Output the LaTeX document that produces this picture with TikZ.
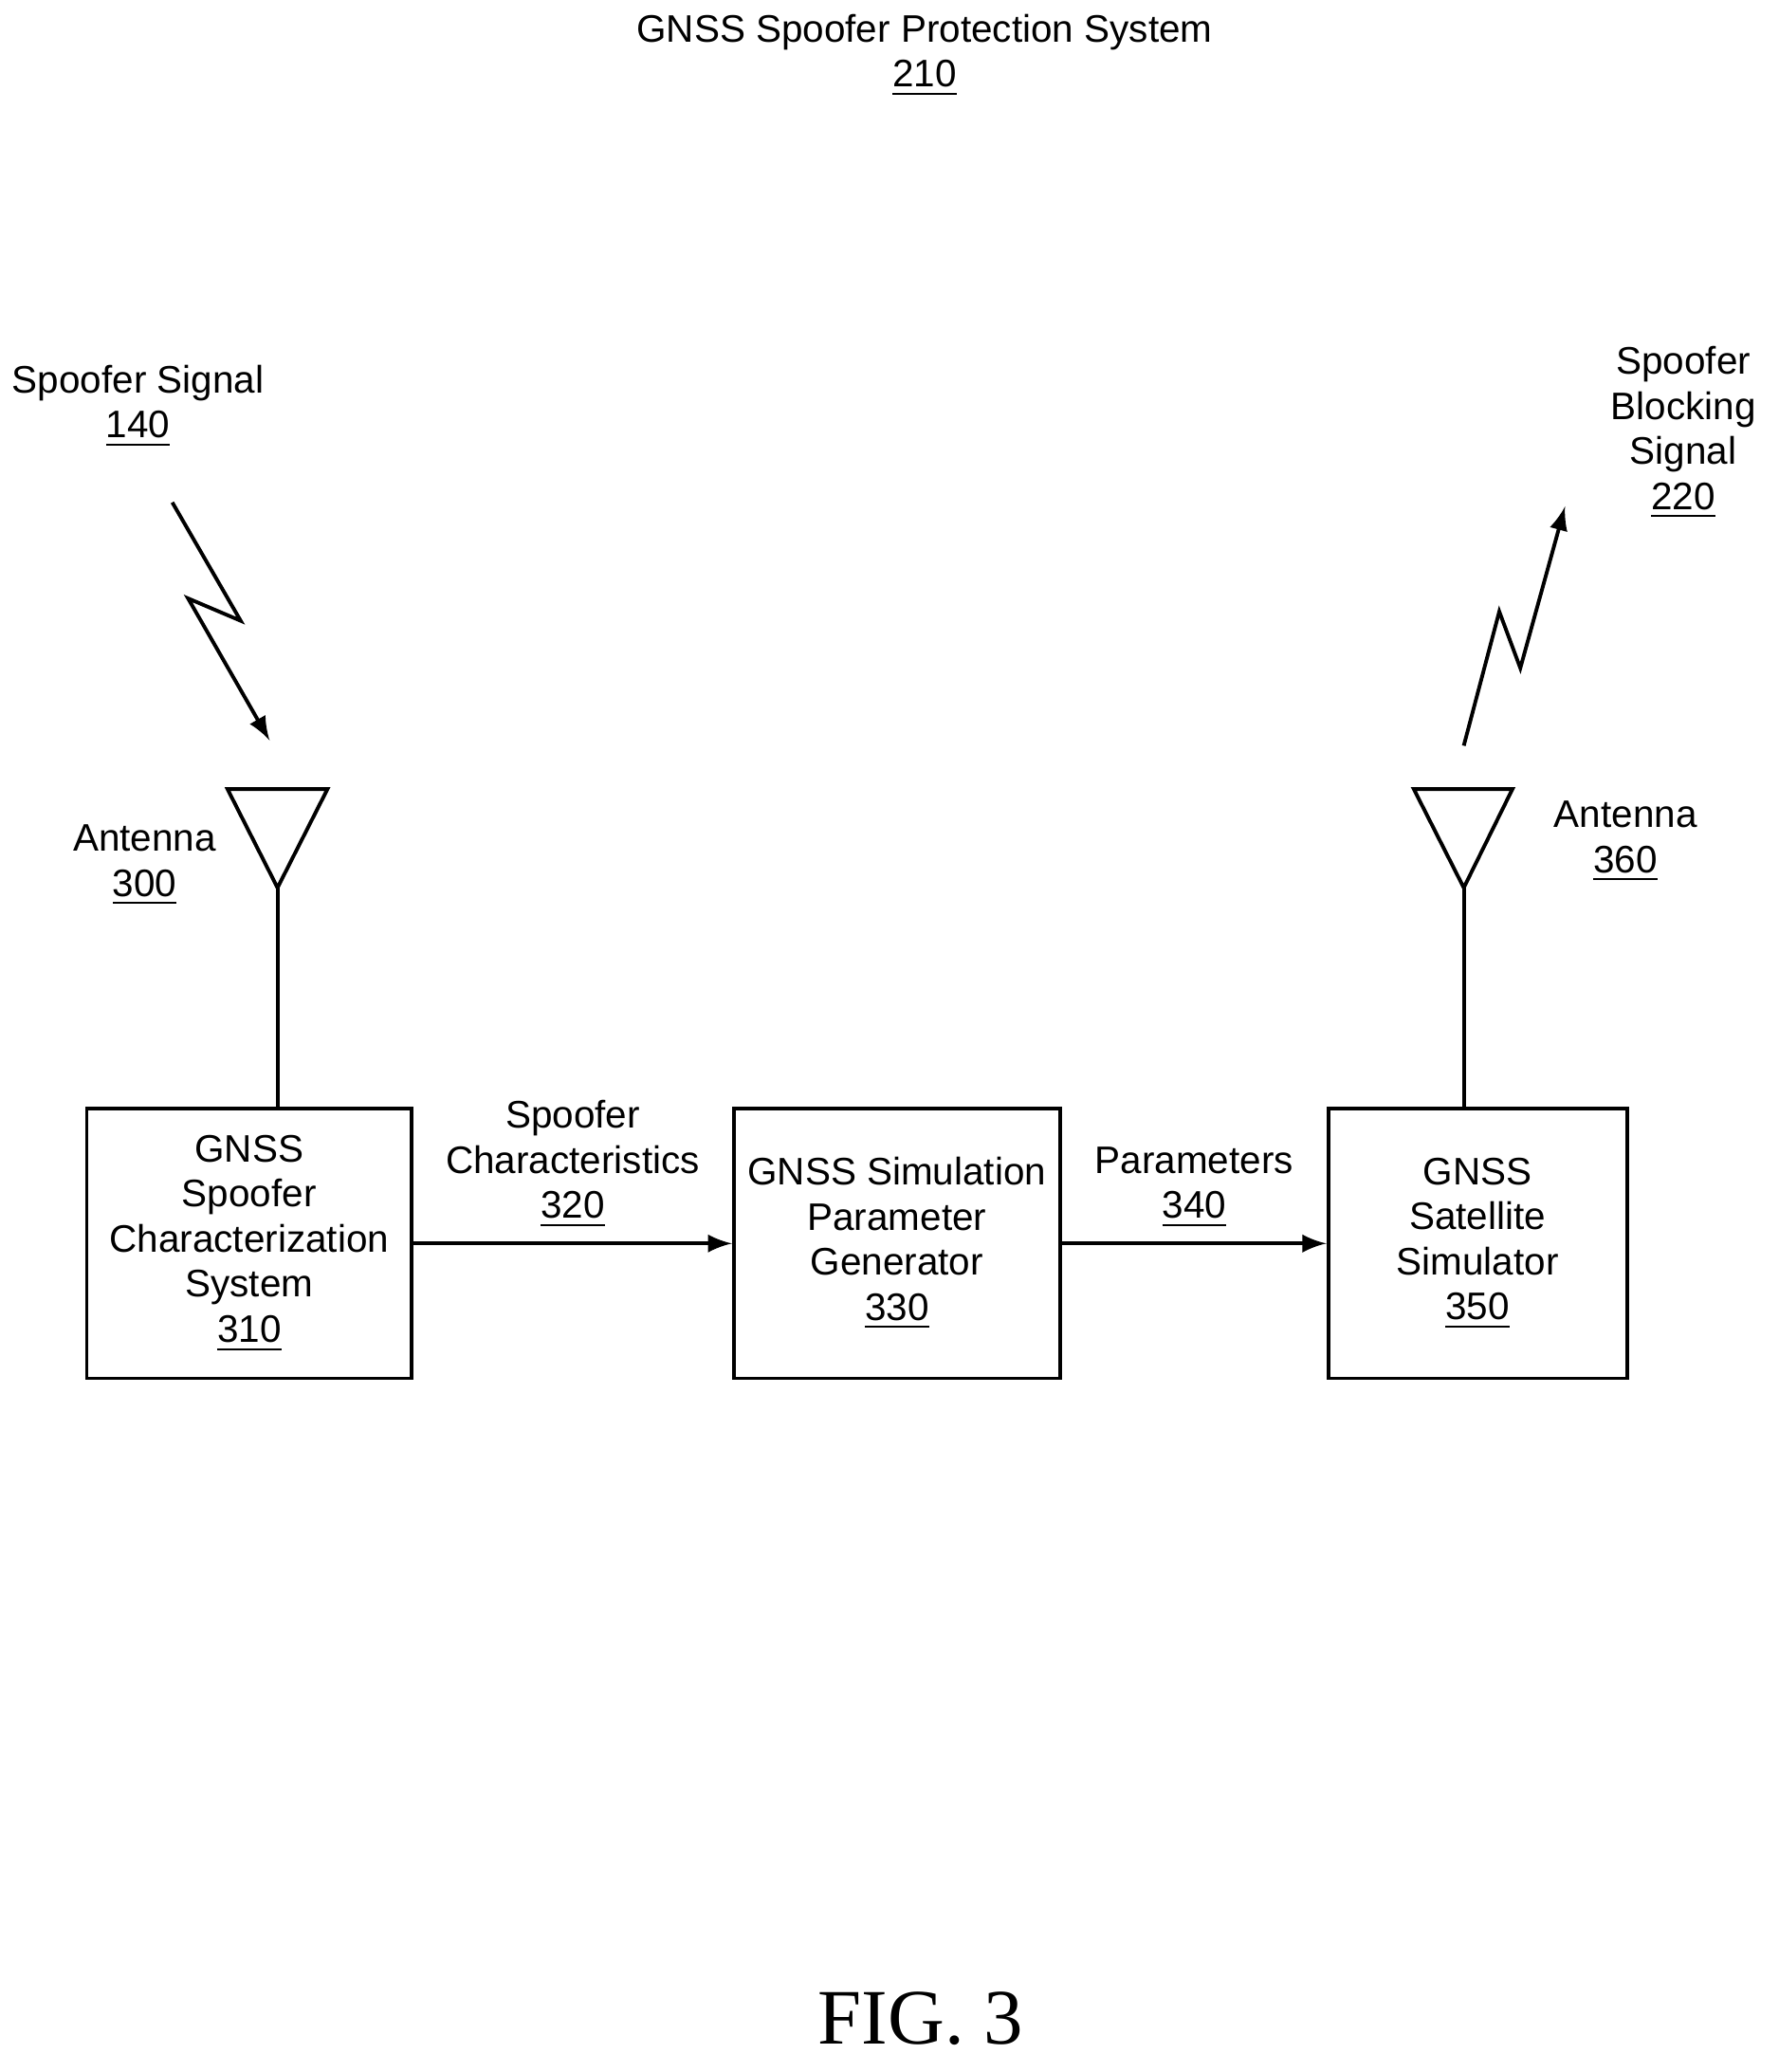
\documentclass[tikz,border=0pt]{standalone}
\usepackage{fontspec}
\setmainfont{Liberation Sans}
\newfontfamily\figfont{Liberation Serif}
\usetikzlibrary{positioning}
\tikzset{
  block/.style={draw, thick, minimum width=2.47cm, minimum height=2.05cm, align=center, inner sep=1pt},
  lbl/.style={align=center, inner sep=1pt},
  flow/.style={thick, ->, >=latex},
  bolt/.style={thick, ->, >=latex},
}
\begin{document}
\begin{tikzpicture}[x=1cm, y=-1cm, font=\fontsize{8.3}{9.75}\selectfont]
  \useasboundingbox (0, 0) rectangle (13.52, 15.755);

  \node[lbl] at (7.03, 0.42) (title) {GNSS Spoofer Protection System\\\underline{210}};

  % blocks
  \node[block] at (1.895, 9.455) (char) {GNSS\\Spoofer\\Characterization\\System\\\underline{310}};
  \node[block, minimum width=2.48cm] at (6.82, 9.455) (gen) {GNSS Simulation\\Parameter\\Generator\\\underline{330}};
  \node[block, minimum width=2.27cm] at (11.235, 9.455) (sim) {GNSS\\Satellite\\Simulator\\\underline{350}};

  \draw[flow] (char) -- (gen) node[lbl, midway, above=2pt] (chartext) {Spoofer\\Characteristics\\\underline{320}};
  \draw[flow] (gen) -- (sim) node[lbl, midway, above=2pt] (partext) {Parameters\\\underline{340}};

  % antennas
  \coordinate (rxtip) at (2.11, 6.75);
  \coordinate (txtip) at (11.13, 6.75);
  \draw[thick] (1.73, 6.0) -- (2.49, 6.0) -- (rxtip) -- cycle;
  \draw[thick] (10.75, 6.0) -- (11.50, 6.0) -- (txtip) -- cycle;
  \draw[thick] (rxtip) -- (rxtip |- char.north);
  \draw[thick] (txtip) -- (txtip |- sim.north);
  \node[lbl] at (1.10, 6.58) (rxlbl) {Antenna\\\underline{300}};
  \node[lbl] at (12.36, 6.40) (txlbl) {Antenna\\\underline{360}};

  % signals
  \node[lbl] at (1.05, 3.09) (insig) {Spoofer Signal\\\underline{140}};
  \node[lbl] at (12.80, 3.29) (outsig) {Spoofer\\Blocking\\Signal\\\underline{220}};
  \draw[bolt] (1.31, 3.82) -- (1.83, 4.72) -- (1.43, 4.55) -- (2.05, 5.63);
  \draw[bolt] (11.13, 5.67) -- (11.40, 4.65) -- (11.56, 5.08) -- (11.90, 3.85);

  \node[font=\figfont\fontsize{17}{20}\selectfont] at (7.00, 15.35) (fig) {FIG. 3};
\end{tikzpicture}
\end{document}
